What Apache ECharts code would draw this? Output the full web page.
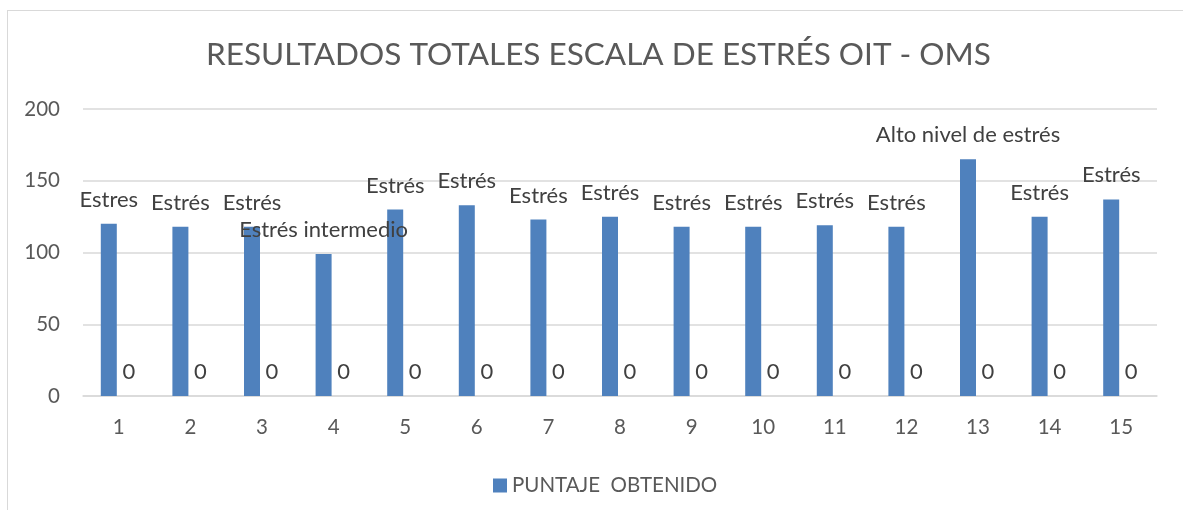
<!DOCTYPE html>
<html>
<head>
<meta charset="utf-8">
<script src="https://cdn.jsdelivr.net/npm/echarts@6/dist/echarts.min.js"></script>
<style>
html,body{margin:0;padding:0;background:#fff;overflow:hidden;}
#frame{position:absolute;left:7px;top:10px;width:1200px;height:600px;border:1px solid #d9d9d9;box-sizing:border-box;}
#main{position:absolute;left:0;top:0;width:1183px;height:510px;}
</style>
</head>
<body>
<div id="frame"></div>
<div id="main"></div>
<script>
const titleText = 'RESULTADOS TOTALES ESCALA DE ESTRÉS OIT - OMS';
const categories = ['1','2','3','4','5','6','7','8','9','10','11','12','13','14','15'];
const seriesName = 'PUNTAJE  OBTENIDO';
const scores = [120,118,118,99,130,133,123,125,118,118,119,118,165,125,137];
const levels = ['Estres','Estrés','Estrés','Estrés intermedio','Estrés','Estrés','Estrés','Estrés','Estrés','Estrés','Estrés','Estrés','Alto nivel de estrés','Estrés','Estrés'];
const zeros = [0,0,0,0,0,0,0,0,0,0,0,0,0,0,0];
const yTicks = {min:0, max:200, interval:50};

const FONT = 'Lato, "Liberation Sans", sans-serif';
const chart = echarts.init(document.getElementById('main'));
chart.setOption({
  animation:false,
  backgroundColor:'transparent',
  title:{text:titleText,left:201,top:34,textStyle:{fontFamily:FONT,fontSize:31.5,fontWeight:'normal',color:'#595959'}},
  legend:{data:[seriesName],left:488,top:470,itemWidth:14,itemHeight:14,itemGap:6,icon:'rect',
    textStyle:{fontFamily:FONT,fontSize:20.5,color:'#595959'}},
  grid:{left:83,right:26,top:109,bottom:114},
  xAxis:{type:'category',data:categories,
    axisLine:{lineStyle:{color:'#d9d9d9',width:1.5}},axisTick:{show:false},
    axisLabel:{fontFamily:FONT,fontSize:20.5,color:'#595959',margin:21}},
  yAxis:{type:'value',min:yTicks.min,max:yTicks.max,interval:yTicks.interval,
    axisLine:{show:false},axisTick:{show:false},
    splitLine:{lineStyle:{color:'#d9d9d9',width:1.5}},
    axisLabel:{fontFamily:FONT,fontSize:20.5,color:'#595959',margin:23}},
  series:[
    {name:seriesName,type:'bar',data:scores,barWidth:16,barGap:'25%',
      itemStyle:{color:'#4f81bd'},
      label:{show:true,position:'top',distance:13,fontFamily:FONT,fontSize:22,color:'#404040',
        formatter:p=>levels[p.dataIndex]}},
    {name:'Serie 2',type:'bar',data:zeros,barWidth:16,
      itemStyle:{color:'#c0504d'},
      label:{show:true,position:'top',distance:13,fontFamily:FONT,fontSize:22,color:'#404040'}}
  ]
});
</script>
</body>
</html>
